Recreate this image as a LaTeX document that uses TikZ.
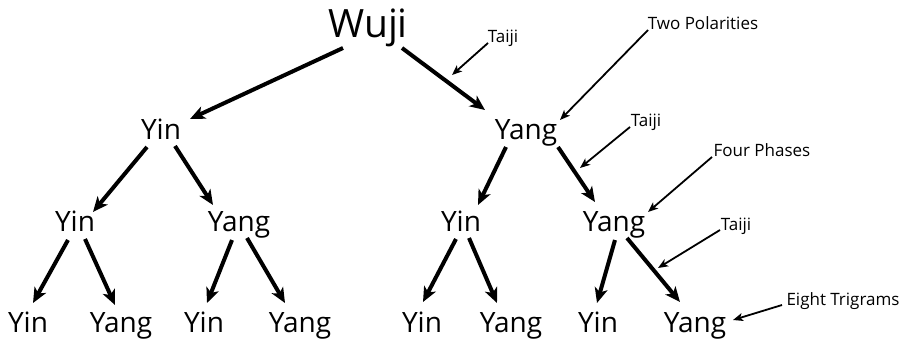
\documentclass[tikz,border=0pt]{standalone}
\usepackage{fontspec}
\setmainfont{Open Sans}
\usetikzlibrary{arrows.meta,calc}

\tikzset{
  title/.style={inner sep=0pt, anchor=base, font=\fontsize{39}{39}\selectfont},
  term/.style={inner sep=0pt, anchor=base, font=\fontsize{28}{28}\selectfont},
  note/.style={inner sep=0pt, anchor=base, font=\fontsize{17}{17}\selectfont},
  branch/.style={line width=4pt, -{Stealth[length=15pt,width=13pt,inset=4pt]}},
  pointer/.style={line width=1.8pt, -{Stealth[length=10pt,width=8pt,inset=2.5pt]}}
}

\begin{document}
\begin{tikzpicture}[x=1pt,y=-1pt]
\useasboundingbox (0,0) rectangle (908,341);

% tree levels
\node[title] (wuji) at (368,37) {Wuji};

\node[term] (yinA) at (161,139) {Yin};
\node[term] (yangA) at (526,139) {Yang};

\node[term] (yinB1) at (75,231) {Yin};
\node[term] (yangB1) at (239,231) {Yang};
\node[term] (yinB2) at (461,231) {Yin};
\node[term] (yangB2) at (614,231) {Yang};

\node[term] (yinC1) at (28,332) {Yin};
\node[term] (yangC1) at (121,332) {Yang};
\node[term] (yinC2) at (204,332) {Yin};
\node[term] (yangC2) at (300,332) {Yang};
\node[term] (yinC3) at (422,332) {Yin};
\node[term] (yangC3) at (511,332) {Yang};
\node[term] (yinC4) at (598,332) {Yin};
\node[term] (yangC4) at (695,332) {Yang};

% side notes
\node[note] (taiji1) at (503,42) {Taiji};
\node[note] (polar) at (703,29) {Two Polarities};
\node[note] (taiji2) at (646,126) {Taiji};
\node[note] (phases) at (762,156) {Four Phases};
\node[note] (taiji3) at (736,230) {Taiji};
\node[note] (trigrams) at (843,305) {Eight Trigrams};

\coordinate (t1end) at (452,75);
\coordinate (t2end) at (580,168);
\coordinate (t3end) at (658,268);

% branches
\draw[branch] ($(wuji.base)+(-25,11)$) -- ($(yinA.base)+(29,-20)$);
\draw[branch] ($(wuji.base)+(34,11)$) -- ($(yangA.base)+(-41,-29)$);

\draw[branch] ($(yinA.base)+(-14,8)$) -- ($(yinB1.base)+(18,-19)$);
\draw[branch] ($(yinA.base)+(14,7)$) -- ($(yangB1.base)+(-26,-26)$);
\draw[branch] ($(yangA.base)+(-20,8)$) -- ($(yinB2.base)+(17,-26)$);
\draw[branch] ($(yangA.base)+(32,8)$) -- ($(yangB2.base)+(-19,-29)$);

\draw[branch] ($(yinB1.base)+(-7,9)$) -- ($(yinC1.base)+(5,-29)$);
\draw[branch] ($(yinB1.base)+(10,8)$) -- ($(yangC1.base)+(-6,-27)$);
\draw[branch] ($(yangB1.base)+(-7,9)$) -- ($(yinC2.base)+(3,-29)$);
\draw[branch] ($(yangB1.base)+(8,7)$) -- ($(yangC2.base)+(-15,-29)$);
\draw[branch] ($(yinB2.base)+(-5,8)$) -- ($(yinC3.base)+(1,-30)$);
\draw[branch] ($(yinB2.base)+(8,7)$) -- ($(yangC3.base)+(-14,-29)$);
\draw[branch] ($(yangB2.base)+(1,9)$) -- ($(yinC4.base)+(-1,-29)$);
\draw[branch] ($(yangB2.base)+(13,7)$) -- ($(yangC4.base)+(-15,-30)$);

% pointers from the notes
\draw[pointer] ($(taiji1.base)+(-15,1)$) -- (t1end);
\draw[pointer] ($(polar.base)+(-55,1)$) -- ($(yangA.base)+(34,-19)$);
\draw[pointer] ($(taiji2.base)+(-16,1)$) -- (t2end);
\draw[pointer] ($(phases.base)+(-50,1)$) -- ($(yangB2.base)+(34,-19)$);
\draw[pointer] ($(taiji3.base)+(-16,0)$) -- (t3end);
\draw[pointer] ($(trigrams.base)+(-61,0)$) -- ($(yangC4.base)+(38,-12)$);
\end{tikzpicture}
\end{document}
